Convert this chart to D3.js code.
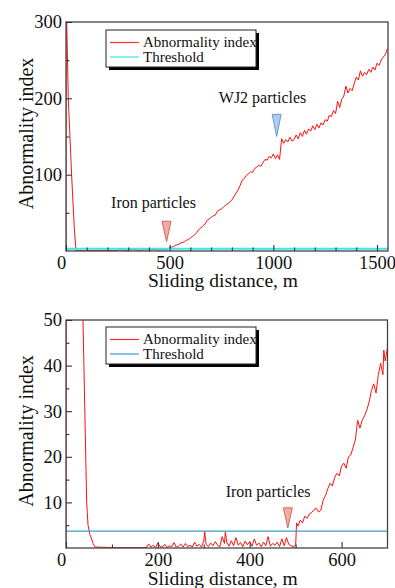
<!DOCTYPE html>
<html>
<head>
<meta charset="utf-8">
<script src="https://cdn.jsdelivr.net/npm/d3@7/dist/d3.min.js"></script>
<style>
  body { margin: 0; background: #fff; }
  text { font-family: "Liberation Serif", "Times New Roman", serif; fill: #111; }
</style>
</head>
<body>
<svg id="fig" width="395" height="588"></svg>
<script>
// ---- upper panel: run to 1550 m (iron, then WJ2 particles) ----
const topDist = [0, 0.5, 11, 27, 40, 48, 60, 100, 150, 200, 230, 260, 300, 320, 350, 380, 400, 420, 450, 470, 480,
  490, 500, 510, 520, 530, 540, 550, 560, 570, 580, 590, 600, 610, 620, 630, 640, 650, 660, 670, 680, 690,
  700, 710, 720, 730, 740, 750, 760, 770, 780, 790, 800, 810, 820, 830, 840, 850, 860, 870, 880, 890,
  900, 910, 920, 930, 940, 950, 960, 970, 980, 990, 1000, 1010, 1020, 1030, 1040, 1050, 1060, 1070, 1080, 1090,
  1100, 1110, 1120, 1130, 1140, 1150, 1160, 1170, 1180, 1190, 1200, 1210, 1220, 1230, 1240, 1250, 1260, 1270, 1280, 1290,
  1300, 1310, 1320, 1330, 1340, 1350, 1360, 1370, 1380, 1390, 1400, 1410, 1420, 1430, 1440, 1450, 1460, 1470, 1480, 1490,
  1500, 1510, 1520, 1530, 1540, 1550];
const topIndex = [0, 340, 200, 100, 30, 1, 0.5, 0.3, 0.8, 1, 0.5, 1.5, 1, 2, 1, 1.8, 1.2, 2, 1.5, 2.2, 1.5,
  2, 5, 5, 6, 8, 8, 10, 11, 12, 14, 15, 17, 19, 21, 24, 28, 30, 33, 35, 40, 42,
  44, 46, 47, 52, 54, 55, 58, 60, 62, 64, 67, 71, 76, 80, 86, 93, 95, 99, 101, 104,
  103, 108, 110, 112, 111, 116, 120, 119, 124, 122, 127, 121, 126, 120, 147, 141, 146, 143, 149, 144,
  146, 152, 147, 155, 150, 158, 153, 160, 157, 164, 159, 166, 161, 168, 165, 172, 170, 178, 176, 184,
  180, 196, 188, 199, 203, 216, 207, 213, 210, 219, 228, 224, 236, 229, 234, 231, 238, 234, 241, 237,
  246, 243, 250, 254, 257, 265];
const topThreshold = 3;
const topXMajor = [0, 500, 1000, 1500];
const topXMinor = [100, 200, 300, 400, 600, 700, 800, 900, 1100, 1200, 1300, 1400];
const topYMajor = [100, 200, 300];
const topYMinor = [50, 150, 250];

// ---- lower panel: run to 700 m (iron particles) ----
const botDist = [0, 0.5, 37, 39, 41, 43, 45, 48, 52, 59, 63, 100, 150, 175,
  180, 185, 190, 195, 200, 205, 210, 215, 220, 225, 230, 235, 240, 245, 250, 255, 260, 265, 270, 275,
  280, 285, 290, 295, 300, 302, 305, 310, 315, 320, 325, 330, 335, 340, 345, 347, 350, 355, 360, 365,
  370, 375, 380, 385, 390, 395, 400, 405, 410, 415, 420, 425, 430, 435, 440, 445, 450, 455, 460, 465,
  470, 475, 480, 485, 490, 495, 500, 502, 505, 510, 515, 520, 525, 530, 535, 540, 545, 550, 555, 560,
  565, 570, 575, 580, 585, 590, 595, 600, 605, 610, 615, 620, 625, 630, 635, 640, 645, 650, 655, 660,
  665, 670, 675, 680, 685, 690, 692, 695, 700];
const botIndex = [0, 90, 50, 40, 30, 20, 10, 5, 3, 1, 0.2, 0.1, 0.1, 0.1,
  0.9, 0.2, 0.6, 0.1, 1.1, 0.3, 0.2, 0.8, 0.1, 0.5, 0.3, 1.2, 0.2, 0.4, 0.9, 0.2, 1.0, 0.3, 0.6, 0.2,
  1.3, 0.4, 0.8, 0.2, 1.5, 3.6, 0.8, 0.3, 1.1, 0.5, 1.4, 0.6, 0.3, 2.5, 1.0, 3.5, 1.2, 0.4, 1.6, 0.5,
  2.3, 0.6, 1.2, 0.3, 1.5, 0.7, 1.4, 0.4, 2.0, 0.6, 1.1, 0.3, 1.3, 0.5, 2.5, 0.4, 1.0, 0.6, 1.3, 0.3,
  2.0, 0.5, 2.3, 0.8, 0.5, 0.3, 0.5, 5.5, 4.8, 6.1, 5.5, 7.0, 6.5, 7.5, 7.8, 8.4, 8.7, 7.9, 8.3, 10.5,
  11.5, 13.0, 14.2, 13.6, 15.5, 16.4, 15.8, 18.0, 18.6, 17.5, 20.0, 20.4, 22.0, 23.7, 28.0, 26.3, 28.0, 29.0, 30.3, 32.0,
  34.5, 36.0, 34.0, 38.0, 40.5, 38.0, 43.4, 41.0, 44.0];
const botThreshold = 3.7;
const botXMajor = [0, 200, 400, 600];
const botXMinor = [100, 300, 500];
const botYMajor = [10, 20, 30, 40, 50];
const botYMinor = [5, 15, 25, 35, 45];

const legendLabels = ['Abnormality index', 'Threshold'];

const svg = d3.select('#fig');
const serif = '"Liberation Serif", "Times New Roman", serif';

function panel(o) {
  const x = d3.scaleLinear().domain(o.xDomain).range([66, o.right]);
  const y = d3.scaleLinear().domain(o.yDomain).range([o.bottom, o.top]);
  const g = svg.append('g');

  g.append('clipPath').attr('id', o.id)
    .append('rect')
    .attr('x', 66).attr('y', o.top)
    .attr('width', o.right - 66).attr('height', o.bottom - o.top);

  // abnormality index
  const pts = o.dist.map((d, i) => [d, o.index[i]]);
  g.append('path')
    .datum(pts)
    .attr('clip-path', `url(#${o.id})`)
    .attr('fill', 'none')
    .attr('stroke', '#ff1010')
    .attr('stroke-width', 1)
    .attr('d', d3.line().x((d) => x(d[0])).y((d) => y(d[1])));

  // threshold
  g.append('line')
    .attr('x1', x(o.xDomain[0])).attr('x2', x(o.xDomain[1]))
    .attr('y1', y(o.threshold)).attr('y2', y(o.threshold))
    .attr('stroke', o.thColor)
    .attr('stroke-width', o.thWidth);

  // frame
  g.append('rect')
    .attr('x', 66).attr('y', o.top)
    .attr('width', o.right - 66).attr('height', o.bottom - o.top)
    .attr('fill', 'none').attr('stroke', '#444').attr('stroke-width', 1.3);

  // axes (ticks pointing inward)
  const fmt = d3.format('d');
  const xAx = g.append('g').attr('transform', `translate(0,${o.bottom})`)
    .call(d3.axisBottom(x).tickValues(o.xMajor).tickFormat(fmt)
      .tickSizeInner(-6).tickSizeOuter(0).tickPadding(5));
  xAx.selectAll('text').filter((d) => d === 0).attr('dx', -5);
  g.append('g').attr('transform', `translate(0,${o.bottom})`)
    .call(d3.axisBottom(x).tickValues(o.xMinor).tickSizeInner(-3.5).tickSizeOuter(0).tickFormat(''));
  g.append('g').attr('transform', 'translate(66,0)')
    .call(d3.axisLeft(y).tickValues(o.yMajor).tickFormat(fmt)
      .tickSizeInner(-6).tickSizeOuter(0).tickPadding(4));
  g.append('g').attr('transform', 'translate(66,0)')
    .call(d3.axisLeft(y).tickValues(o.yMinor).tickSizeInner(-3.5).tickSizeOuter(0).tickFormat(''));

  g.selectAll('.domain').remove();
  g.selectAll('.tick').each(function () {
    d3.select(this.parentNode).attr('font-family', serif).attr('font-size', 18);
  });
  g.selectAll('.tick line').attr('stroke', '#333').attr('stroke-width', 1.1);
  g.selectAll('.tick text')
    .style('font-family', serif)
    .style('font-size', '18.5px')
    .attr('fill', '#111');

  // axis titles
  g.append('text')
    .attr('transform', `translate(33,${(o.top + o.bottom) / 2 - 3}) rotate(-90)`)
    .attr('text-anchor', 'middle')
    .style('font-size', '20px')
    .text('Abnormality index');
  g.append('text')
    .attr('x', (66 + o.right) / 2 - 4)
    .attr('y', o.bottom + o.titleDy)
    .attr('text-anchor', 'middle')
    .style('font-size', '19.5px')
    .text('Sliding distance, m');

  // legend
  const lg = g.append('g').attr('transform', `translate(106,${o.top + o.legendDy})`);
  lg.append('rect').attr('x', 3).attr('y', 3).attr('width', 150).attr('height', 37).attr('fill', '#000');
  lg.append('rect').attr('width', 150).attr('height', 37)
    .attr('fill', '#fff').attr('stroke', '#222').attr('stroke-width', 1);
  const colors = ['#ff3030', o.thColor];
  legendLabels.forEach((lab, i) => {
    lg.append('line')
      .attr('x1', 4).attr('x2', 33)
      .attr('y1', 12.5 + i * 14.5).attr('y2', 12.5 + i * 14.5)
      .attr('stroke', colors[i]).attr('stroke-width', 1.2);
    lg.append('text')
      .attr('x', 37).attr('y', 17 + i * 14.5)
      .style('font-size', '15px')
      .text(lab);
  });

  // event markers
  o.marks.forEach((m) => {
    const cx = x(m.at);
    const yTip = y(m.tip);
    const yTop = y(m.base);
    g.append('path')
      .attr('d', `M${cx - 4.5},${yTop}L${cx + 4.5},${yTop}L${cx},${yTip}Z`)
      .attr('fill', m.fill).attr('stroke', m.stroke).attr('stroke-width', 1);
    g.append('text')
      .attr('x', x(m.textAt)).attr('y', y(m.textV))
      .attr('text-anchor', 'middle')
      .style('font-size', '16px')
      .text(m.label);
  });
}

panel({
  id: 'clipTop', dist: topDist, index: topIndex, threshold: topThreshold,
  xDomain: [0, 1553], yDomain: [0, 300], right: 388, top: 22, bottom: 251,
  xMajor: topXMajor, xMinor: topXMinor, yMajor: topYMajor, yMinor: topYMinor,
  thColor: '#3ce6ec', thWidth: 2, legendDy: 8, titleDy: 36,
  marks: [
    { label: 'Iron particles', at: 485, tip: 12, base: 39, textAt: 422, textV: 56, fill: '#f6aaa4', stroke: '#d36a66' },
    { label: 'WJ2 particles', at: 1016, tip: 150, base: 179, textAt: 948, textV: 194, fill: '#aecbf0', stroke: '#6f98d4' }
  ]
});

panel({
  id: 'clipBot', dist: botDist, index: botIndex, threshold: botThreshold,
  xDomain: [0, 700], yDomain: [0, 50], right: 387.5, top: 320, bottom: 548,
  xMajor: botXMajor, xMinor: botXMinor, yMajor: botYMajor, yMinor: botYMinor,
  thColor: '#3a9ccc', thWidth: 1.2, legendDy: 7, titleDy: 37,
  marks: [
    { label: 'Iron particles', at: 483, tip: 4.4, base: 8.8, textAt: 440, textV: 11.2, fill: '#f6aaa4', stroke: '#d36a66' }
  ]
});
</script>
</body>
</html>
